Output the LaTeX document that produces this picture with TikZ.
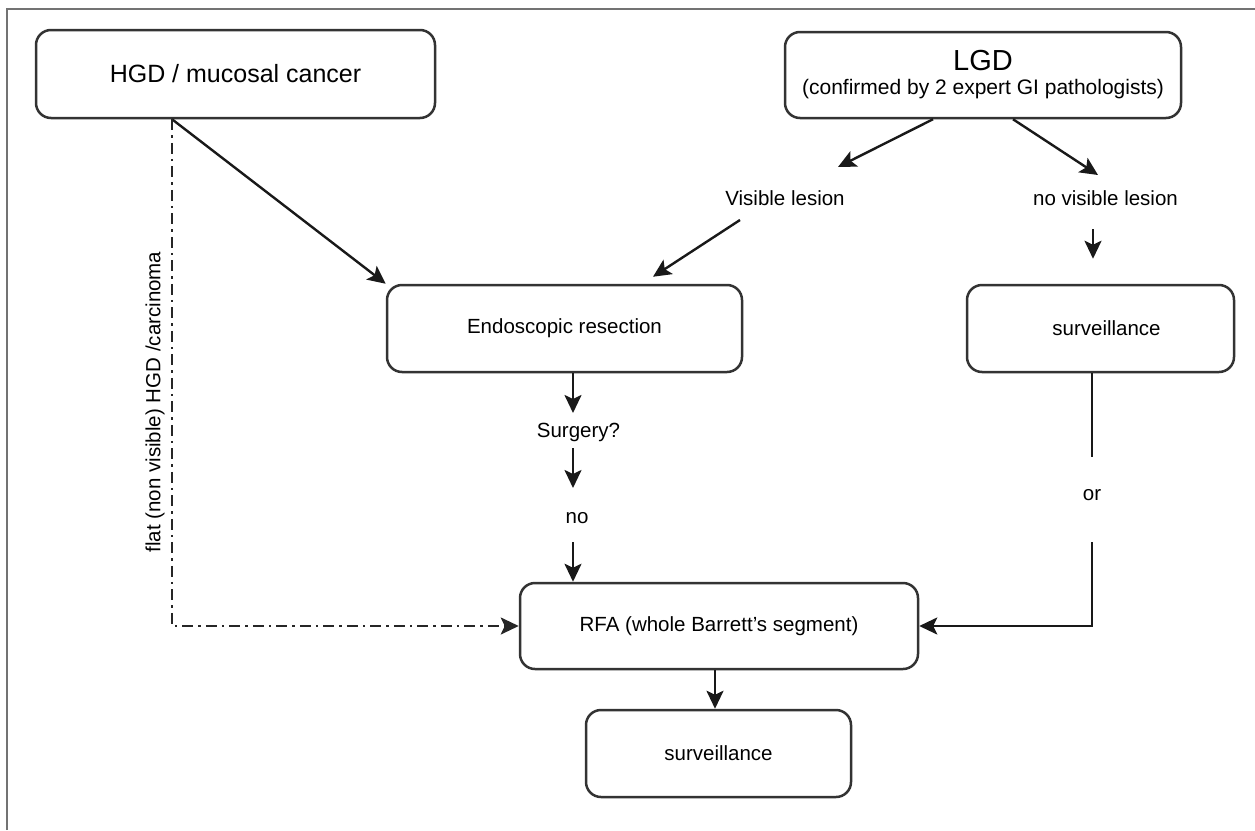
\documentclass[tikz,border=0pt]{standalone}
\usepackage{fontspec}
\setmainfont{Liberation Sans}
\usetikzlibrary{arrows.meta}
\tikzset{
  box/.style={draw=black!80, line width=2.5pt, rounded corners=15pt, fill=white, inner sep=0pt, font=\fontsize{20.5}{24}\selectfont},
  lbl/.style={inner sep=0pt, font=\fontsize{20.5}{24}\selectfont},
  arr/.style={draw=black!90, line width=2.4pt, -{Stealth[length=18pt,width=17pt,inset=4pt]}},
  plain/.style={draw=black!90, line width=2.4pt},
  dashdot/.style={draw=black!85, line width=2.4pt, dash pattern=on 11pt off 5pt on 2.5pt off 5pt, -{Stealth[length=18pt,width=17pt,inset=4pt]}},
  frame/.style={draw=black!55, line width=1.8pt}
}
\begin{document}
\begin{tikzpicture}[x=1pt,y=-1pt]
\useasboundingbox (0,0) rectangle (1255,830);
\draw[frame] (7,830) -- (7,9) -- (1255,9);

% boxes
\node[box, minimum width=399pt, minimum height=88pt, font=\fontsize{25}{29}\selectfont] (hgd) at (235.5,74) {HGD / mucosal cancer};
\node[box, minimum width=396pt, minimum height=86pt, align=center, font=\fontsize{21}{24}\selectfont] (lgd) at (983,75) {{\fontsize{29}{24}\selectfont LGD}\\(confirmed by 2 expert GI pathologists)};
\node[box, minimum width=355pt, minimum height=87pt] (endo) at (564.5,328.5) {Endoscopic resection};
\node[box, minimum width=267pt, minimum height=87pt] (surv1) at (1100.5,328.5) {\hspace*{12pt}surveillance};
\node[box, minimum width=398pt, minimum height=86pt] (rfa) at (719,626) {RFA (whole Barrett's segment)};
\node[box, minimum width=265pt, minimum height=87pt] (surv2) at (718.5,753.5) {surveillance};

% labels
\node[lbl] (vis) at (785,198) {Visible lesion};
\node[lbl] (novis) at (1105.5,198) {no visible lesion};
\node[lbl] (surgery) at (578.5,432) {Surgery?};
\node[lbl] (no) at (577,518) {no};
\node[lbl] (or) at (1092,495) {or};
\node[lbl, rotate=90] (flat) at (155,402) {flat (non visible) HGD /carcinoma};

% connectors
\draw[arr] ([xshift=-63.5pt]hgd.south) -- (endo.north west);
\draw[arr] ([xshift=-50pt]lgd.south) -- ([xshift=53pt,yshift=31pt]vis.center);
\draw[arr] ([xshift=30pt]lgd.south) -- ([xshift=-7.5pt,yshift=23pt]novis.center);
\draw[arr] ([xshift=-45pt,yshift=-22pt]vis.center) -- ([xshift=88.5pt,yshift=7pt]endo.north);
\draw[arr] ([xshift=-12.5pt,yshift=-31pt]novis.center) -- ([xshift=-7.5pt,yshift=25pt]surv1.north);
\draw[arr] ([xshift=8.5pt]endo.south) -- ([xshift=-5.5pt,yshift=19pt]surgery.center);
\draw[arr] ([xshift=-5.5pt,yshift=-16pt]surgery.center) -- ([xshift=-4pt,yshift=30pt]no.center);
\coordinate (n1) at ([xshift=-4pt,yshift=-24pt]no.center);
\draw[arr] (n1) -- (n1 |- rfa.north);
\draw[arr] ([xshift=-4pt]rfa.south) -- ([xshift=-3.5pt]surv2.north);
\draw[plain] ([xshift=-8.5pt]surv1.south) -- ([yshift=38pt]or.center);
\draw[arr] ([yshift=-47pt]or.center) |- (rfa.east);
\draw[dashdot] ([xshift=-63.5pt]hgd.south) |- (rfa.west);
\end{tikzpicture}
\end{document}
